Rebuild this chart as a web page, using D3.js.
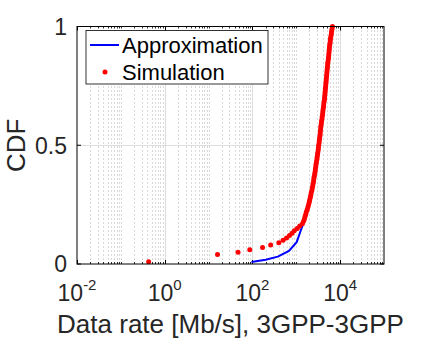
<!DOCTYPE html>
<html><head><meta charset="utf-8">
<script src="https://cdn.jsdelivr.net/npm/d3@7"></script>
<style>html,body{margin:0;padding:0;background:#fff;}svg{display:block;}</style>
</head><body>
<svg id="c" width="425" height="341"></svg>
<script>
// ---- data ----
const xTickValues = [1e-2, 1e0, 1e2, 1e4];
const xTickExps = ["-2", "0", "2", "4"];
const yTickValues = [0, 0.5, 1];
const yTickLabels = ["0", "0.5", "1"];
const seriesNames = ["Approximation", "Simulation"];

// Approximation (blue line): rate [Mb/s], CDF
const approxRate = [95, 200, 380, 680, 1020, 1260, 1510, 1820, 2140, 2510, 2850, 3470, 4070, 4790, 5620, 6610];
const approxCdf  = [0.008, 0.018, 0.031, 0.055, 0.092, 0.14, 0.18, 0.23, 0.28, 0.36, 0.45, 0.55, 0.65, 0.76, 0.88, 1.0];

// Simulation (red dots): rate [Mb/s], CDF
const simRate = [0.43, 16, 47, 87, 170, 260, 400, 500, 600, 700, 800, 900, 1050, 1200,
  1380, 1462, 1531, 1585, 1641, 1698, 1778, 1841, 1905, 1972,
  2018, 2089, 2138, 2188, 2265, 2317, 2371, 2427, 2483, 2512,
  2570, 2630, 2692, 2723, 2786, 2818, 2884, 2951, 2985, 3055,
  3090, 3162, 3199, 3236, 3311, 3350, 3388, 3467, 3508, 3548,
  3589, 3631, 3715, 3758, 3846, 3890, 3981, 4027, 4074, 4169,
  4217, 4266, 4365, 4416, 4467, 4519, 4571, 4624, 4677, 4732,
  4786, 4842, 4898, 4955, 5012, 5070, 5129, 5188, 5248, 5370,
  5433, 5495, 5559, 5623, 5689, 5754, 5888, 5957, 6026, 6166,
  6310, 6383, 6531, 6683];
const simCdf = [0.01, 0.04, 0.05, 0.06, 0.07, 0.08, 0.09, 0.10, 0.11, 0.12, 0.13, 0.14, 0.15, 0.16,
  0.17, 0.18, 0.19, 0.20, 0.21, 0.22, 0.23, 0.24, 0.25, 0.26,
  0.27, 0.28, 0.29, 0.30, 0.31, 0.32, 0.33, 0.34, 0.35, 0.36,
  0.37, 0.38, 0.39, 0.40, 0.41, 0.42, 0.43, 0.44, 0.45, 0.46,
  0.47, 0.48, 0.49, 0.50, 0.51, 0.52, 0.53, 0.54, 0.55, 0.56,
  0.57, 0.58, 0.59, 0.60, 0.61, 0.62, 0.63, 0.64, 0.65, 0.66,
  0.67, 0.68, 0.69, 0.70, 0.71, 0.72, 0.73, 0.74, 0.75, 0.76,
  0.77, 0.78, 0.79, 0.80, 0.81, 0.82, 0.83, 0.84, 0.85, 0.86,
  0.87, 0.88, 0.89, 0.90, 0.91, 0.92, 0.93, 0.94, 0.95, 0.96,
  0.97, 0.98, 0.99, 1.00];

// ---- layout ----
const L = 77, R = 384, T = 26.5, B = 264;
const FONT = "'Liberation Sans', Arial, Helvetica, sans-serif";
const svg = d3.select("#c");
const x = d3.scaleLog().domain([1e-2, 1e5]).range([L, R]);
const y = d3.scaleLinear().domain([0, 1]).range([B, T]);

// minor positions
const minor = [];
for (let e = -2; e < 5; e++) {
  for (let k = 1; k <= 9; k++) {
    const v = k * Math.pow(10, e);
    if (k === 1 && e % 2 === 0) continue;
    minor.push(v);
  }
}
const g = svg.append("g");
// minor grid (dotted)
g.selectAll("line.mg").data(minor).enter().append("line")
  .attr("x1", d => Math.round(x(d)) + 0.5).attr("x2", d => Math.round(x(d)) + 0.5)
  .attr("y1", T).attr("y2", B)
  .attr("stroke", "#b4b4b4").attr("stroke-width", 1).attr("stroke-dasharray", "1,3");
// major grid
g.selectAll("line.Mg").data(xTickValues.slice(1)).enter().append("line")
  .attr("x1", d => Math.round(x(d)) + 0.5).attr("x2", d => Math.round(x(d)) + 0.5)
  .attr("y1", T).attr("y2", B).attr("stroke", "#dedede").attr("stroke-width", 1);
g.selectAll("line.Mgy").data([0.5]).enter().append("line")
  .attr("y1", d => Math.round(y(d)) + 0.5).attr("y2", d => Math.round(y(d)) + 0.5)
  .attr("x1", L).attr("x2", R).attr("stroke", "#dedede").attr("stroke-width", 1);

// minor ticks top & bottom
g.selectAll("line.mtb").data(minor).enter().append("line")
  .attr("x1", d => Math.round(x(d)) + 0.5).attr("x2", d => Math.round(x(d)) + 0.5)
  .attr("y1", B).attr("y2", B - 2).attr("stroke", "#000").attr("stroke-width", 0.8);
g.selectAll("line.mtt").data(minor).enter().append("line")
  .attr("x1", d => Math.round(x(d)) + 0.5).attr("x2", d => Math.round(x(d)) + 0.5)
  .attr("y1", T).attr("y2", T + 2).attr("stroke", "#000").attr("stroke-width", 0.8);
// major ticks
g.selectAll("line.Mtb").data(xTickValues).enter().append("line")
  .attr("x1", d => Math.round(x(d)) + 0.5).attr("x2", d => Math.round(x(d)) + 0.5)
  .attr("y1", B).attr("y2", B - 4).attr("stroke", "#000");
g.selectAll("line.Mtt").data(xTickValues).enter().append("line")
  .attr("x1", d => Math.round(x(d)) + 0.5).attr("x2", d => Math.round(x(d)) + 0.5)
  .attr("y1", T).attr("y2", T + 4).attr("stroke", "#000");
g.selectAll("line.Mtl").data(yTickValues).enter().append("line")
  .attr("y1", d => y(d)).attr("y2", d => y(d)).attr("x1", L).attr("x2", L + 4).attr("stroke", "#000");
g.selectAll("line.Mtr").data(yTickValues).enter().append("line")
  .attr("y1", d => y(d)).attr("y2", d => y(d)).attr("x1", R).attr("x2", R - 4).attr("stroke", "#000");

// data: approximation line
const approx = approxRate.map((r, i) => [r, approxCdf[i]]);
svg.append("path").datum(approx)
  .attr("d", d3.line().x(d => x(d[0])).y(d => y(d[1])))
  .attr("fill", "none").attr("stroke", "#0000ff").attr("stroke-width", 2);
// simulation dots
const sim = simRate.map((r, i) => [r, simCdf[i]]);
svg.append("g").selectAll("circle").data(sim).enter().append("circle")
  .attr("cx", d => x(d[0])).attr("cy", d => y(d[1])).attr("r", 2.5).attr("fill", "#ff0000");

// axes box
svg.append("rect").attr("x", L).attr("y", T).attr("width", R - L).attr("height", B - T)
  .attr("fill", "none").attr("stroke", "#000").attr("stroke-width", 1);

// tick labels
const xl = svg.append("g").attr("font-family", FONT).attr("fill", "#262626");
xTickValues.forEach((v, i) => {
  const t = xl.append("text").attr("x", x(v)).attr("y", 301).attr("text-anchor", "middle").attr("font-size", 23);
  t.append("tspan").text("10");
  t.append("tspan").attr("font-size", 15).attr("dy", -11).text(xTickExps[i]);
});
yTickValues.forEach((v, i) => {
  xl.append("text").attr("x", 67).attr("y", y(v) + 8.3).attr("text-anchor", "end")
    .attr("font-size", 23).text(yTickLabels[i]);
});
// axis labels
xl.append("text").attr("x", (L + R) / 2).attr("y", 333).attr("text-anchor", "middle")
  .attr("font-size", 26).text("Data rate [Mb/s], 3GPP-3GPP");
xl.append("text").attr("transform", `translate(25,${(T + B) / 2}) rotate(-90)`)
  .attr("text-anchor", "middle").attr("font-size", 26).text("CDF");

// legend
const lg = svg.append("g");
lg.append("rect").attr("x", 86).attr("y", 30.5).attr("width", 182).attr("height", 53.5)
  .attr("fill", "#fff").attr("stroke", "#000").attr("stroke-width", 0.8);
lg.append("line").attr("x1", 90).attr("x2", 119).attr("y1", 45).attr("y2", 45)
  .attr("stroke", "#0000ff").attr("stroke-width", 2);
lg.append("circle").attr("cx", 105).attr("cy", 72).attr("r", 2.5).attr("fill", "#ff0000");
lg.selectAll("text").data(seriesNames).enter().append("text")
  .attr("x", 122).attr("y", (d, i) => 53 + i * 26.5)
  .attr("font-family", FONT).attr("font-size", 22).attr("fill", "#000").text(d => d);
</script>
</body></html>
